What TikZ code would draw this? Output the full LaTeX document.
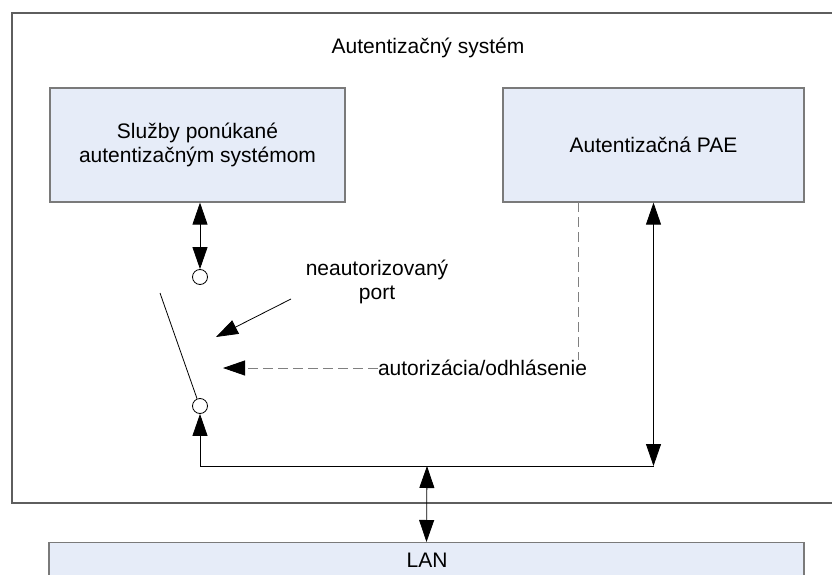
\documentclass[tikz,border=0pt]{standalone}
\usepackage{fontspec}
\setmainfont{Liberation Sans}
\usetikzlibrary{arrows.meta}
\definecolor{boxfill}{HTML}{E6ECF8}
\definecolor{boxline}{HTML}{7A7A7A}
\definecolor{frameline}{HTML}{5E5E5E}
\begin{document}
\begin{tikzpicture}[x=1pt,y=-1pt,
  every node/.style={font=\fontsize{21}{24}\selectfont, inner sep=0pt},
  unit/.style={draw=boxline, line width=1.2pt, fill=boxfill, minimum height=114pt, align=center},
  port/.style={draw=black, line width=0.8pt, circle, minimum size=15pt, fill=white},
  link/.style={line width=0.8pt, draw=black},
  tip/.style={-{Triangle[length=22pt,width=15pt,black]}},
  tips/.style={{Triangle[length=22pt,width=15pt,black]}-{Triangle[length=22pt,width=15pt,black]}},
  ctrl/.style={line width=0.8pt, draw=gray, dash pattern=on 10pt off 5pt}]
\useasboundingbox (0,0) rectangle (832,575);

% outer frame of the system
\node[draw=frameline, line width=1.2pt, minimum width=833pt, minimum height=490pt] (sys) at (428.5,258) {};
\node (title) at (428,48) {Autentizačný systém};

% functional blocks
\node[unit, minimum width=295pt] (svc) at (197.5,145) {Služby ponúkané\\autentizačným systémom};
\node[unit, minimum width=301pt] (pae) at (653.5,145) {Autentizačná PAE};
\node[unit, minimum width=755pt, minimum height=40pt, anchor=north] (lan) at (426.5,542) {};
\node (lantext) at (427,560) {LAN};

% switch contacts
\node[port] (c1) at (200,277) {};
\node[port] (c2) at (200,406) {};
\coordinate (lever) at (160,293);
\coordinate (bus) at (427,466);

% labels
\node[align=center] (np) at (377,282) {neautorizovaný\\port};
\node (auth) at (482.5,368) {autorizácia/odhlásenie};
\coordinate (npfrom) at (291,299);
\coordinate (npto) at (216,337);
\coordinate (authto) at (223,368);
\coordinate (dtop) at (578,202);

% connections
\draw[link, tips] (c1.north |- svc.south) -- (c1.north);
\draw[link] (lever) -- (c2.112);
\draw[link, tip] (c2.south |- bus) -- (c2.south);
\draw[link] (c2.south |- bus) -- (pae.south |- bus);
\draw[link, tips] (pae.south) -- (pae.south |- bus);
\draw[link, tips] (bus) -- (lan.north);
\draw[link, tip] (npfrom) -- (npto);

% authorization control path
\draw[ctrl] (dtop) -- (auth.north -| dtop);
\draw[ctrl, tip] (auth.west) -- (authto);
\end{tikzpicture}
\end{document}
